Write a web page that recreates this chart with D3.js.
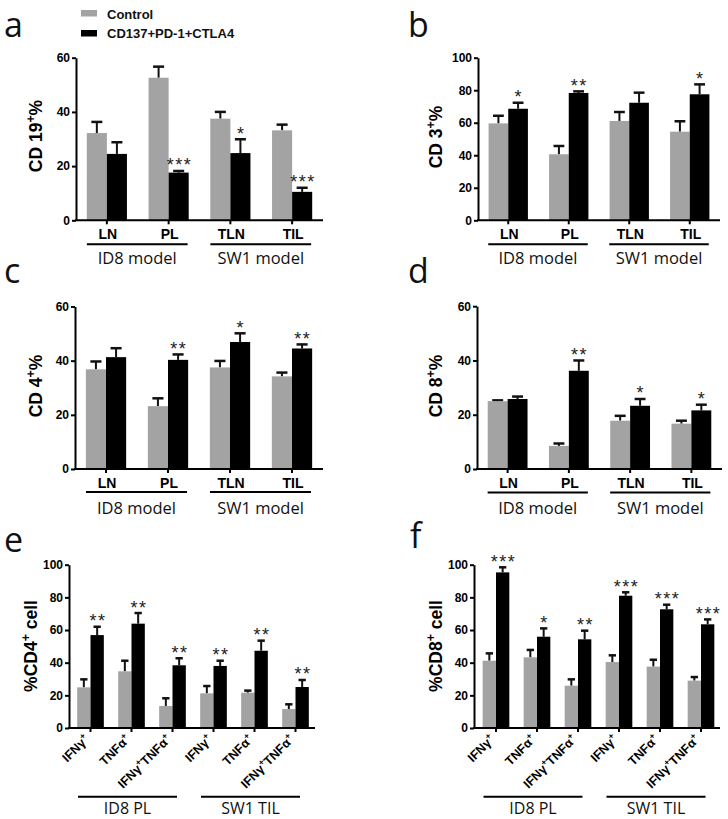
<!DOCTYPE html>
<html><head><meta charset="utf-8">
<script src="https://cdn.jsdelivr.net/npm/d3@7"></script>
<style>body{margin:0;background:#fff}</style>
</head><body>
<script>
// ---------- DATA ----------
const legendLabels = ["Control", "CD137+PD-1+CTLA4"];
const catsABCD = ["LN", "PL", "TLN", "TIL"];
const groupsABCD = ["ID8 model", "SW1 model"];
const catsEF = ["IFNγ+", "TNFα+", "IFNγ+TNFα+", "IFNγ+", "TNFα+", "IFNγ+TNFα+"];
const groupsEF = ["ID8 PL", "SW1 TIL"];

const aCtrl = [32.2, 52.6, 37.5, 33.2], aCtrlErr = [4.1, 4.1, 2.5, 2.1];
const aTrt = [24.5, 17.6, 24.8, 10.5], aTrtErr = [4.3, 0.6, 5.1, 1.5];
const aSig = ["", "***", "*", "***"];

const bCtrl = [59.6, 40.6, 61.1, 54.5], bCtrlErr = [4.7, 5.1, 5.5, 6.4];
const bTrt = [68.6, 78.3, 72.3, 77.5], bTrtErr = [3.7, 1.0, 6.2, 6.1];
const bSig = ["*", "**", "", "*"];

const cCtrl = [36.8, 23.2, 37.5, 34.2], cCtrlErr = [2.9, 2.9, 2.4, 1.4];
const cTrt = [41.3, 40.3, 46.9, 44.5], cTrtErr = [3.3, 2.0, 3.2, 1.5];
const cSig = ["", "**", "*", "**"];

const dCtrl = [25.0, 8.5, 17.8, 16.7], dCtrlErr = [0.3, 0.9, 1.8, 1.1];
const dTrt = [25.8, 36.2, 23.3, 21.6], dTrtErr = [0.9, 3.8, 2.5, 2.1];
const dSig = ["", "**", "*", "*"];

const eCtrl = [24.9, 34.7, 13.5, 21.2, 21.6, 11.6], eCtrlErr = [4.9, 6.5, 4.7, 4.5, 1.3, 2.9];
const eTrt = [56.9, 63.9, 38.4, 38.0, 47.3, 25.1], eTrtErr = [5.1, 6.5, 4.3, 3.2, 6.2, 4.3];
const eSig = ["**", "**", "**", "**", "**", "**"];

const fCtrl = [41.2, 43.3, 25.9, 40.4, 37.6, 29.0], fCtrlErr = [4.5, 4.5, 3.9, 4.1, 4.2, 2.2];
const fTrt = [95.3, 55.9, 54.3, 81.0, 72.7, 63.5], fTrtErr = [3.1, 5.1, 5.3, 2.1, 2.8, 3.0];
const fSig = ["***", "*", "**", "***", "***", "***"];

const ticks60 = [0, 20, 40, 60];
const ticks100 = [0, 20, 40, 60, 80, 100];

// ---------- DRAW ----------
const SANS = "'Liberation Sans', Arial, sans-serif";
const HUM = "'Open Sans', 'Noto Sans', sans-serif";
const GREY = "#a3a3a3";

const svg = d3.select("body").append("svg").attr("width", 728).attr("height", 819);

function supText(sel, str, fs) {
  const parts = str.split("+");
  parts.forEach((p, i) => {
    if (i > 0) {
      sel.append("tspan").attr("font-size", fs * 0.7).attr("dy", -fs * 0.42).text("+");
      sel.append("tspan").attr("dy", fs * 0.42).text(p === "" ? "\u200b" : p);
    } else {
      sel.append("tspan").text(p);
    }
  });
}

function panel(cfg) {
  const g = svg.append("g");
  const y = d3.scaleLinear().domain([0, cfg.max]).range([cfg.yBot, cfg.yTop]);
  const x = d3.scaleBand().domain(d3.range(cfg.cats.length))
    .range([cfg.x0 + (cfg.off || 0), cfg.x1 + (cfg.off || 0)]).paddingInner(0.35).paddingOuter(0.175);
  const xi = d3.scaleBand().domain([0, 1]).range([0, x.bandwidth()]);
  const series = [
    {v: cfg.ctrl, e: cfg.ctrlErr, c: GREY},
    {v: cfg.trt, e: cfg.trtErr, c: "#000"}
  ];
  const bw = xi.bandwidth();
  series.forEach((s, si) => {
    s.v.forEach((v, i) => {
      const bx = x(i) + xi(si);
      const cx = bx + bw / 2;
      const capW = bw * 0.55;
      g.append("line").attr("x1", cx).attr("x2", cx).attr("y1", y(v)).attr("y2", y(v + s.e[i]))
        .attr("stroke", "#111").attr("stroke-width", 2);
      g.append("line").attr("x1", cx - capW / 2).attr("x2", cx + capW / 2)
        .attr("y1", y(v + s.e[i])).attr("y2", y(v + s.e[i]))
        .attr("stroke", "#111").attr("stroke-width", 2.5);
      g.append("rect").attr("x", bx).attr("width", bw).attr("y", y(v)).attr("height", y(0) - y(v)).attr("fill", s.c);
    });
  });
  // significance
  cfg.sig.forEach((s, i) => {
    if (!s) return;
    const cx = x(i) + xi(1) + bw / 2;
    g.append("text").attr("x", cx + 0.75).attr("y", y(cfg.trt[i] + cfg.trtErr[i]) + 0.5)
      .attr("text-anchor", "middle").attr("font-family", SANS).attr("font-size", 18)
      .attr("letter-spacing", 1.5).attr("fill", "#222").text(s);
  });
  // y axis
  const ya = g.append("g").attr("transform", `translate(${cfg.x0},0)`)
    .call(d3.axisLeft(y).tickValues(cfg.ticks).tickSize(4).tickSizeOuter(0).tickPadding(2));
  ya.selectAll("path,line").attr("stroke", "#000").attr("stroke-width", 2);
  ya.selectAll("text").attr("font-family", SANS).attr("font-weight", "bold").attr("font-size", 12).attr("fill", "#000");
  // x axis
  const xc = d3.scalePoint().domain(d3.range(cfg.cats.length)).range([x(0) + x.bandwidth() / 2, x(cfg.cats.length - 1) + x.bandwidth() / 2]);
  g.append("line").attr("x1", cfg.x0 - 1).attr("x2", cfg.x1).attr("y1", cfg.yBot).attr("y2", cfg.yBot)
    .attr("stroke", "#000").attr("stroke-width", 2);
  cfg.cats.forEach((c, i) => {
    g.append("line").attr("x1", xc(i)).attr("x2", xc(i)).attr("y1", cfg.yBot).attr("y2", cfg.yBot + 4)
      .attr("stroke", "#000").attr("stroke-width", 2);
  });
  if (!cfg.rot) {
    cfg.cats.forEach((c, i) => {
      g.append("text").attr("x", xc(i) + 1).attr("y", cfg.yBot + 18.5).attr("text-anchor", "middle")
        .attr("font-family", SANS).attr("font-weight", "bold").attr("font-size", 14).text(c);
    });
  } else {
    cfg.cats.forEach((c, i) => {
      const t = g.append("text").attr("text-anchor", "end")
        .attr("transform", `translate(${xc(i) - 0.5},${cfg.yBot + 12}) rotate(-45)`)
        .attr("font-family", SANS).attr("font-weight", "bold").attr("font-size", 12.5);
      supText(t, c, 12.5);
    });
  }
  // group lines and labels
  const per = cfg.cats.length / 2;
  cfg.groups.forEach((gl, gi) => {
    const a = xc(gi * per) + cfg.lineL, b = xc(gi * per + per - 1) + cfg.lineR;
    g.append("line").attr("x1", a).attr("x2", b).attr("y1", cfg.lineY).attr("y2", cfg.lineY)
      .attr("stroke", "#000").attr("stroke-width", 2);
    g.append("text").attr("x", (a + b) / 2).attr("y", cfg.labY).attr("text-anchor", "middle")
      .attr("font-family", HUM).attr("font-size", cfg.labFs || 16.5).attr("fill", "#111").text(gl);
  });
  // y label
  const yl = g.append("text").attr("text-anchor", "middle")
    .attr("transform", `translate(${cfg.ylX},${cfg.ylY}) rotate(-90)`)
    .attr("font-family", SANS).attr("font-weight", "bold").attr("font-size", 17.5);
  supText(yl, cfg.ylabel, 17.5);
  // panel letter
  svg.append("text").attr("x", cfg.letX).attr("y", cfg.letY).attr("font-family", HUM)
    .attr("font-size", 34).attr("fill", "#111").text(cfg.letter);
}

panel({letter: "a", letX: 4, letY: 36.5, x0: 76, x1: 323, yTop: 57.7, yBot: 220.3, max: 60, ticks: ticks60,
  cats: catsABCD, groups: groupsABCD, ctrl: aCtrl, ctrlErr: aCtrlErr, trt: aTrt, trtErr: aTrtErr, sig: aSig,
  lineL: -20, lineR: 19, lineY: 244.3, labY: 264, ylabel: "CD 19+%", ylX: 42, ylY: 136});
panel({letter: "b", letX: 408, letY: 36.5, x0: 478, x1: 720, yTop: 57.7, yBot: 220.3, max: 100, ticks: ticks100,
  cats: catsABCD, groups: groupsABCD, ctrl: bCtrl, ctrlErr: bCtrlErr, trt: bTrt, trtErr: bTrtErr, sig: bSig,
  lineL: -20, lineR: 19, lineY: 244.3, labY: 264, ylabel: "CD 3+%", ylX: 442, ylY: 137});
panel({letter: "c", letX: 4, letY: 283, x0: 75, x1: 323, yTop: 306.5, yBot: 469, max: 60, ticks: ticks60,
  cats: catsABCD, groups: groupsABCD, ctrl: cCtrl, ctrlErr: cCtrlErr, trt: cTrt, trtErr: cTrtErr, sig: cSig,
  lineL: -20, lineR: 19, lineY: 492, labY: 514, ylabel: "CD 4+%", ylX: 42, ylY: 386});
panel({letter: "d", letX: 408, letY: 283, x0: 477, x1: 722, yTop: 306.2, yBot: 469, max: 60, ticks: ticks60,
  cats: catsABCD, groups: groupsABCD, ctrl: dCtrl, ctrlErr: dCtrlErr, trt: dTrt, trtErr: dTrtErr, sig: dSig,
  lineL: -20, lineR: 19, lineY: 492.5, labY: 514, ylabel: "CD 8+%", ylX: 442, ylY: 386});
panel({letter: "e", letX: 4, letY: 552, x0: 69, x1: 315, off: 1, yTop: 564.7, yBot: 728, max: 100, ticks: ticks100,
  cats: catsEF, groups: groupsEF, ctrl: eCtrl, ctrlErr: eCtrlErr, trt: eTrt, trtErr: eTrtErr, sig: eSig, rot: true,
  lineL: -12.5, lineR: 4.5, lineY: 796.7, labY: 813.5, labFs: 16, ylabel: "%CD4+ cell", ylX: 37, ylY: 646});
panel({letter: "f", letX: 410, letY: 548, x0: 474, x1: 720, off: 1.5, yTop: 564.7, yBot: 728, max: 100, ticks: ticks100,
  cats: catsEF, groups: groupsEF, ctrl: fCtrl, ctrlErr: fCtrlErr, trt: fTrt, trtErr: fTrtErr, sig: fSig, rot: true,
  lineL: -12.5, lineR: 4.5, lineY: 796.7, labY: 813.5, labFs: 16, ylabel: "%CD8+ cell", ylX: 442, ylY: 646});

// legend
const lg = svg.append("g");
legendLabels.forEach((l, i) => {
  lg.append("rect").attr("x", 81).attr("y", i === 0 ? 10 : 30).attr("width", 16).attr("height", 6.5)
    .attr("fill", i === 0 ? GREY : "#000");
  lg.append("text").attr("x", 107).attr("y", i === 0 ? 18.5 : 38).attr("font-family", SANS)
    .attr("font-weight", "bold").attr("font-size", 13).attr("fill", "#111").text(l);
});
</script>
</body></html>
